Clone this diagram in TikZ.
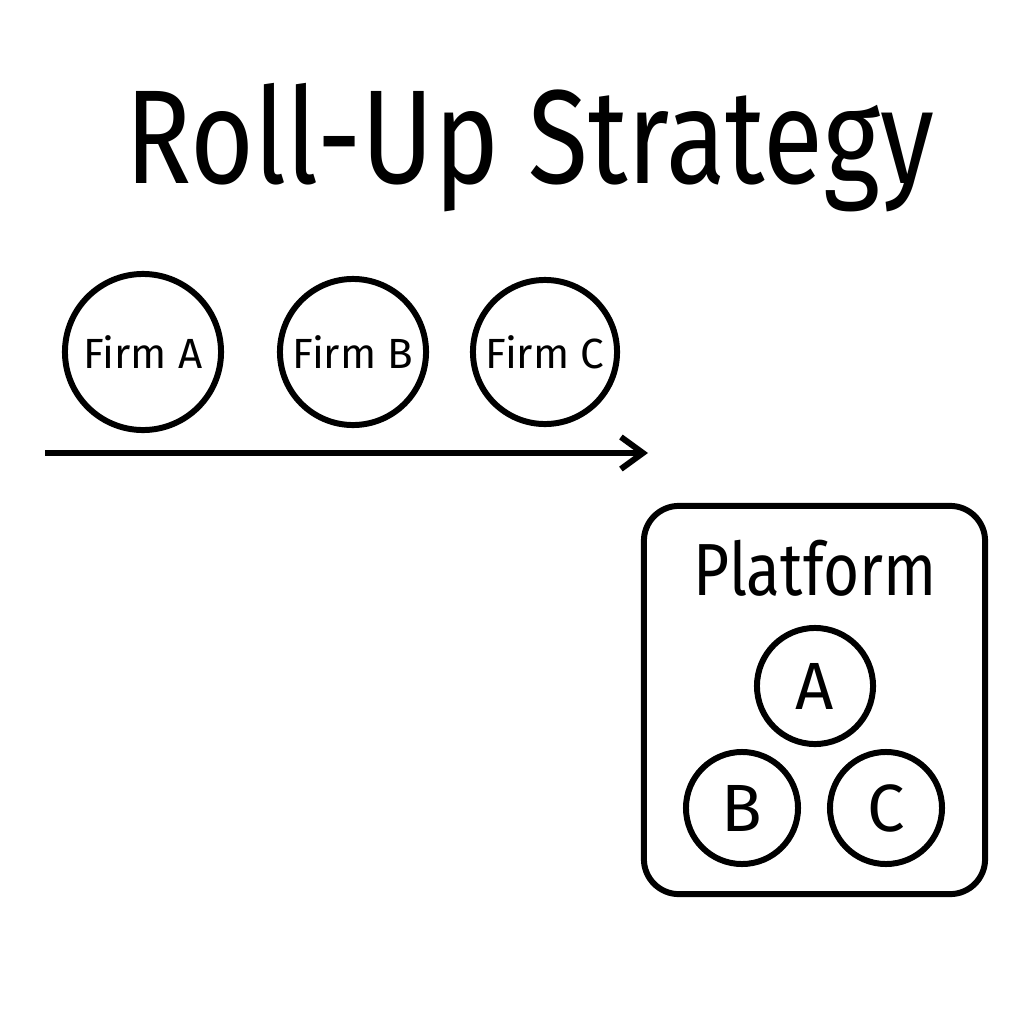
\documentclass[tikz,border=0pt]{standalone}
\usepackage{graphicx}
\usepackage{fontspec}
\setmainfont{Fira Sans}
\usetikzlibrary{arrows.meta}

\begin{document}
\begin{tikzpicture}[x=0.01cm, y=-0.01cm, line width=1.7pt,
  firm/.style={draw, circle, inner sep=0pt, font=\fontsize{12}{14}\selectfont},
  member/.style={draw, circle, inner sep=0pt, font=\fontsize{19}{21}\selectfont},
  box/.style={draw, rounded corners=0.35cm, minimum width=3.41cm, minimum height=3.88cm}]

  \useasboundingbox (0,0) rectangle (1024,1024);

  \node[anchor=base, font=\fontsize{38}{40}\selectfont] (title) at (530,183) {\scalebox{0.82}[1]{Roll-Up Strategy}};

  % firms before the deal
  \node[firm, minimum size=1.56cm] (firmA) at (143,352) {Firm A};
  \node[firm, minimum size=1.46cm] (firmB) at (353,352) {Firm B};
  \node[firm, minimum size=1.44cm] (firmC) at (545,352) {Firm C};

  \coordinate (start) at (45,453);
  \coordinate (end) at (648,453);
  \draw[-{Straight Barb[length=0.22cm, width=0.32cm]}] (start) -- (end);

  % the platform
  \node[box] (platform) at (814.5,700) {};
  \node[anchor=base, font=\fontsize{21}{23}\selectfont] (name) at (815,595) {\scalebox{0.84}[1]{Platform}};

  \node[member, minimum size=1.16cm] (A) at (815,686) {A};
  \node[member, minimum size=1.12cm] (B) at (742,808) {B};
  \node[member, minimum size=1.12cm] (C) at (886,808) {C};

\end{tikzpicture}
\end{document}
